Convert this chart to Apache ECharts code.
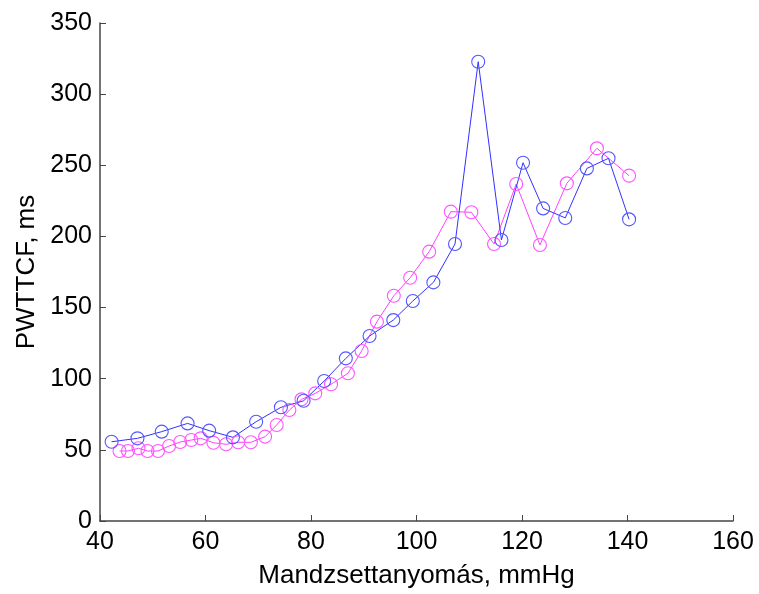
<!DOCTYPE html>
<html><head><meta charset="utf-8">
<script src="https://cdn.jsdelivr.net/npm/echarts@6/dist/echarts.min.js"></script>
<style>html,body{margin:0;padding:0;background:#fff}#c{width:759px;height:594px}</style>
</head><body><div id="c"></div>
<script>
const blueX = [42.2,47.1,51.7,56.6,60.7,65.2,69.6,74.3,78.6,82.5,86.6,91.1,95.6,99.3,103.2,107.3,111.7,116.1,120.2,124.0,128.2,132.3,136.4,140.3];
const blueY = [55.7,58.1,62.8,68.6,63.5,58.8,69.8,79.9,84.5,98.4,114.3,130.0,141.2,154.6,167.7,194.7,322.8,197.5,251.8,219.7,213.0,247.8,254.9,212.0];
const pinkX = [43.7,45.3,47.3,49.0,51.0,53.1,55.2,57.3,59.1,61.5,63.9,66.2,68.6,71.3,73.5,75.9,78.2,80.8,83.8,87.0,89.6,92.5,95.7,98.8,102.4,106.5,110.4,114.7,118.9,123.4,128.5,134.2,140.3];
const pinkY = [49.2,49.2,51.1,49.2,49.2,52.7,55.5,56.9,58.1,55.0,53.9,55.3,55.3,59.3,67.5,78.0,85.5,89.7,96.1,103.8,119.5,140.1,158.3,171.0,189.3,217.4,217.0,194.7,236.8,194.0,237.3,261.9,242.7];
const xTicks = [40,60,80,100,120,140,160];
const yTicks = [0,50,100,150,200,250,300,350];

const zip = (a,b) => a.map((v,i)=>[v,b[i]]);
const font = "'Liberation Sans', Arial, sans-serif";
const chart = echarts.init(document.getElementById('c'));
const axisCommon = {
  axisLine:{show:true,onZero:false,lineStyle:{color:'#444',width:1.5}},
  axisTick:{show:true,inside:true,length:6,lineStyle:{color:'#444',width:1}},
  splitLine:{show:false},
  axisLabel:{color:'#000',fontFamily:font,fontSize:25},
  nameTextStyle:{color:'#000',fontFamily:font,fontSize:26}
};
chart.setOption({
  animation:false,
  grid:{left:100,right:26,top:23,bottom:73},
  xAxis:Object.assign({type:'value',min:xTicks[0],max:xTicks[xTicks.length-1],interval:20,
    name:'Mandzsettanyomás, mmHg',nameLocation:'middle',nameGap:42},axisCommon,
    {axisLabel:Object.assign({},axisCommon.axisLabel,{margin:9})}),
  yAxis:Object.assign({type:'value',min:yTicks[0],max:yTicks[yTicks.length-1],interval:50,
    name:'PWTTCF, ms',nameLocation:'middle',nameGap:58},axisCommon,
    {axisLabel:Object.assign({},axisCommon.axisLabel,{margin:8})}),
  series:[
    {type:'line',data:zip(pinkX,pinkY),symbol:'circle',symbolSize:13,
     lineStyle:{color:'#ff40ff',width:1},itemStyle:{color:'rgba(0,0,0,0)',borderColor:'#ff55ff',borderWidth:1.1}},
    {type:'line',data:zip(blueX,blueY),symbol:'circle',symbolSize:13,
     lineStyle:{color:'#3030ff',width:1},itemStyle:{color:'rgba(0,0,0,0)',borderColor:'#5555ff',borderWidth:1.1}}
  ]
});
</script></body></html>
